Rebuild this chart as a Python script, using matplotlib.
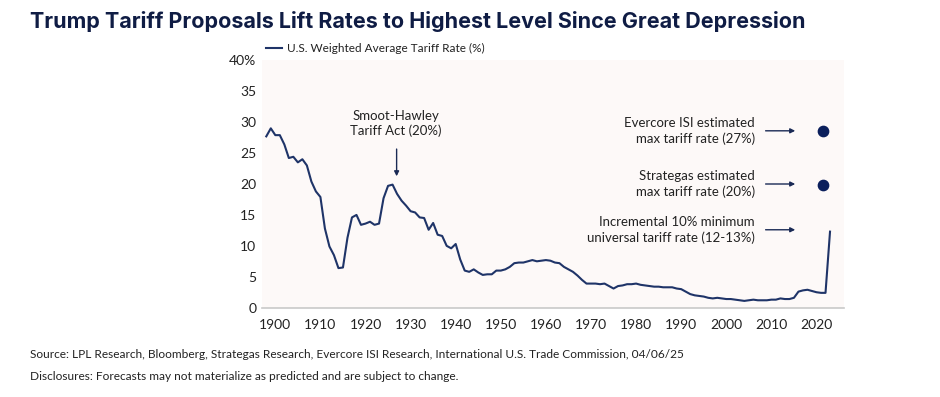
import numpy as np
import matplotlib.pyplot as plt

# data
years = list(range(1898, 2024))
tariff = [27.7, 29.0, 27.9, 27.9, 26.4, 24.2, 24.4, 23.5, 24.0, 23.0,
          20.4, 18.8, 17.9, 12.8, 9.9, 8.5, 6.4, 6.5, 11.3, 14.6,
          15.0, 13.4, 13.6, 13.9, 13.4, 13.6, 17.7, 19.7, 19.9, 18.4,
          17.3, 16.5, 15.6, 15.4, 14.6, 14.5, 12.6, 13.7, 11.8, 11.6,
          10.0, 9.6, 10.3, 7.8, 6.0, 5.8, 6.2, 5.7, 5.3, 5.4,
          5.4, 6.0, 6.0, 6.2, 6.6, 7.2, 7.3, 7.3, 7.5, 7.7,
          7.5, 7.6, 7.7, 7.6, 7.3, 7.2, 6.6, 6.2, 5.8, 5.2,
          4.5, 3.9, 3.9, 3.9, 3.8, 3.9, 3.5, 3.1, 3.5, 3.6,
          3.8, 3.8, 3.9, 3.7, 3.6, 3.5, 3.4, 3.4, 3.3, 3.3,
          3.3, 3.1, 3.0, 2.6, 2.2, 2.0, 1.9, 1.8, 1.6, 1.5,
          1.6, 1.5, 1.4, 1.4, 1.3, 1.2, 1.1, 1.2, 1.3, 1.2,
          1.2, 1.2, 1.3, 1.3, 1.5, 1.4, 1.4, 1.6, 2.6, 2.8,
          2.9, 2.7, 2.5, 2.4, 2.4, 12.3]

proposal_year = 2021.4
proposal_rates = [28.5, 19.9]   # Evercore ISI, Strategas

yticks = [0, 5, 10, 15, 20, 25, 30, 35, 40]
ytick_labels = ['0', '5', '10', '15', '20', '25', '30', '35', '40%']
xticks = list(range(1900, 2030, 10))

navy = '#1f3468'
dot_navy = '#0b1f5c'
text_col = '#222222'
plt.rcParams['font.family'] = ['Lato', 'DejaVu Sans']

fig = plt.figure(figsize=(9.4, 3.97), dpi=100)
ax = fig.add_axes([262/940, (397-307.7)/397, (844-262)/940, (307.7-60.3)/397])
ax.set_facecolor('#fdf9f8')

ax.plot(years, tariff, color=navy, lw=1.5, label='U.S. Weighted Average Tariff Rate (%)')
ax.scatter([proposal_year]*len(proposal_rates), proposal_rates, s=55, color=dot_navy, zorder=3)

ax.set_xlim(1897.05, 2026.1)
ax.set_ylim(0, 40)
ax.set_xticks(xticks)
ax.set_xticklabels([str(x) for x in xticks], fontsize=10, color=text_col)
ax.set_yticks(yticks)
ax.set_yticklabels(ytick_labels, fontsize=10, color=text_col)
ax.tick_params(length=0, pad=4)
ax.tick_params(axis='x', pad=8)
for s in ['top', 'right', 'left']:
    ax.spines[s].set_visible(False)
ax.spines['bottom'].set_color('#c9c9c9')
ax.spines['bottom'].set_linewidth(1.2)

# annotations
arr = dict(arrowstyle='-|>', color='#1a2a55', lw=1.0, mutation_scale=7)
ax.text(1926.8, 29.8, 'Smoot-Hawley\nTariff Act (20%)', ha='center', va='center',
        fontsize=9.5, color=text_col, linespacing=1.3)
ax.annotate('', xy=(1926.9, 20.8), xytext=(1926.9, 26.1), arrowprops=arr)

notes = [('Evercore ISI estimated\nmax tariff rate (27%)', 28.6),
         ('Strategas estimated\nmax tariff rate (20%)', 20.0),
         ('Incremental 10% minimum\nuniversal tariff rate (12-13%)', 12.6)]
for label, yv in notes:
    ax.text(2006.3, yv, label, ha='right', va='center', fontsize=9.5,
            color=text_col, linespacing=1.3)
    ax.annotate('', xy=(2015.9, yv), xytext=(2008.1, yv), arrowprops=arr)

# legend
fig.legend(loc='upper left', bbox_to_anchor=(260/940, 1 - 37/397), frameon=False,
           fontsize=8.5, handlelength=1.4, handletextpad=0.4, borderpad=0,
           labelcolor=text_col)

fig.text(30/940, 1 - 21/397, 'Trump Tariff Proposals Lift Rates to Highest Level Since Great Depression',
         fontsize=15.5, fontweight='bold', color='#0f1c44', va='center', family=['Inter', 'DejaVu Sans'])
fig.text(30/940, 1 - 355/397,
         'Source: LPL Research, Bloomberg, Strategas Research, Evercore ISI Research, International U.S. Trade Commission, 04/06/25',
         fontsize=8.6, color=text_col, va='center')
fig.text(30/940, 1 - 376/397,
         'Disclosures: Forecasts may not materialize as predicted and are subject to change.',
         fontsize=8.6, color=text_col, va='center')

fig.savefig('out.png', dpi=100)
